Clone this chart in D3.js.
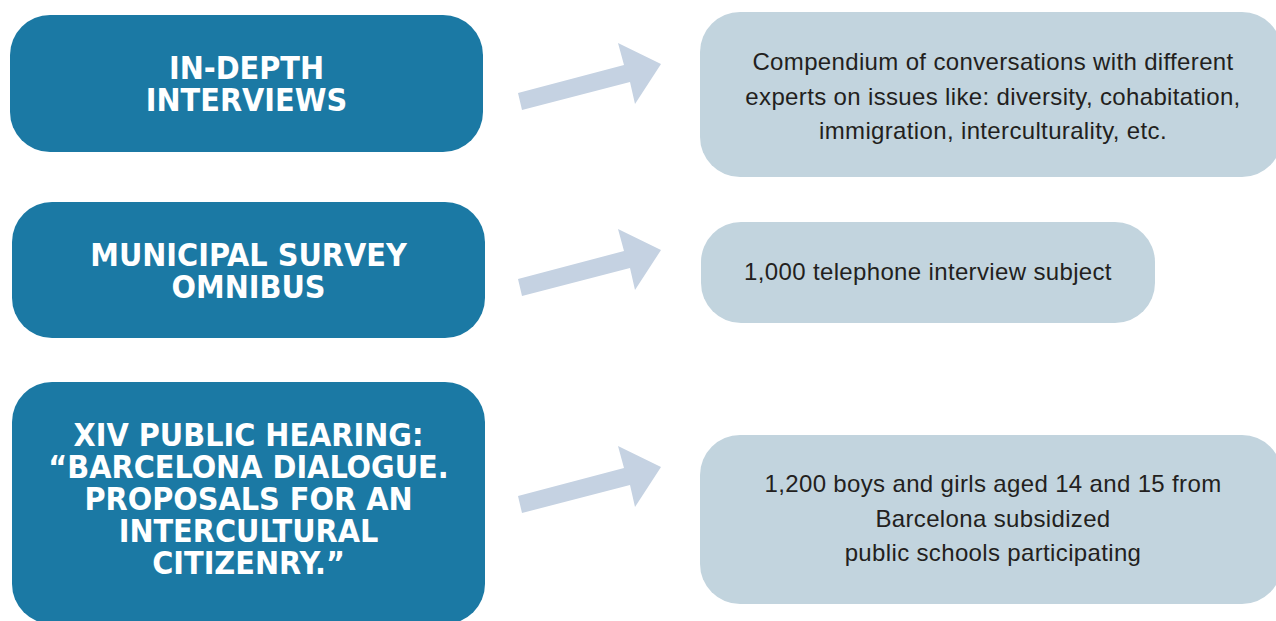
<!DOCTYPE html>
<html>
<head>
<meta charset="utf-8">
<script src="https://cdn.jsdelivr.net/npm/d3@7"></script>
<style>
  html, body { margin: 0; padding: 0; background: #ffffff; overflow: hidden; }
  svg { display: block; }
</style>
</head>
<body>
<svg id="chart" width="1276" height="621"></svg>
<script>
// ---- data ----
const methods = [
  ["IN-DEPTH", "INTERVIEWS"],
  ["MUNICIPAL SURVEY", "OMNIBUS"],
  ["XIV PUBLIC HEARING:", "\u201CBARCELONA DIALOGUE.", "PROPOSALS FOR AN", "INTERCULTURAL", "CITIZENRY.\u201D"]
];
const descriptions = [
  ["Compendium of conversations with different", "experts on issues like: diversity, cohabitation,", "immigration, interculturality, etc."],
  ["1,000 telephone interview subject"],
  ["1,200 boys and girls aged 14 and 15 from", "Barcelona subsidized", "public schools participating"]
];

// ---- layout (styles / positions kept separate from data) ----
const leftBoxes = [
  { x: 10, y: 15, w: 473, h: 137, base: 79 },
  { x: 12, y: 202, w: 473, h: 136, base: 266 },
  { x: 12, y: 382, w: 473, h: 242, base: 446 }
];
const rightBoxes = [
  { x: 700, y: 12, w: 582, h: 165, base: 70 },
  { x: 701, y: 222, w: 454, h: 101, base: 280 },
  { x: 700, y: 435, w: 582, h: 169, base: 492 }
];
const arrowOffsets = [0, 186, 403];
const arrowShape = [[518,93],[624,65],[618,43],[661,64],[635,104],[630,82],[522,110]];

const svg = d3.select("#chart");

// left boxes
const lg = svg.selectAll("g.left").data(methods).join("g").attr("class", "left");
lg.append("rect")
  .attr("x", (d, i) => leftBoxes[i].x)
  .attr("y", (d, i) => leftBoxes[i].y)
  .attr("width", (d, i) => leftBoxes[i].w)
  .attr("height", (d, i) => leftBoxes[i].h)
  .attr("rx", 40).attr("ry", 40)
  .attr("fill", "#1b79a4");
lg.each(function(lines, i) {
  const b = leftBoxes[i];
  d3.select(this).selectAll("text").data(lines).join("text")
    .attr("x", b.x + b.w / 2)
    .attr("y", (d, j) => b.base + j * 32)
    .attr("text-anchor", "middle")
    .attr("fill", "#ffffff")
    .attr("font-family", "'DejaVu Sans Condensed', 'DejaVu Sans', sans-serif")
    .attr("font-stretch", "condensed")
    .attr("font-weight", "bold")
    .attr("font-size", 32)
    .text(d => d);
});

// arrows
const line = d3.line();
svg.selectAll("path.arrow").data(arrowOffsets).join("path")
  .attr("class", "arrow")
  .attr("d", off => line(arrowShape.map(p => [p[0], p[1] + off])) + "Z")
  .attr("fill", "#c5d2e2");

// right boxes
const rg = svg.selectAll("g.right").data(descriptions).join("g").attr("class", "right");
rg.append("rect")
  .attr("x", (d, i) => rightBoxes[i].x)
  .attr("y", (d, i) => rightBoxes[i].y)
  .attr("width", (d, i) => rightBoxes[i].w)
  .attr("height", (d, i) => rightBoxes[i].h)
  .attr("rx", 40).attr("ry", 40)
  .attr("fill", "#c2d4de");
rg.each(function(lines, i) {
  const b = rightBoxes[i];
  d3.select(this).selectAll("text").data(lines).join("text")
    .attr("x", b.x + (i === 1 ? b.w / 2 : 293))
    .attr("y", (d, j) => b.base + j * 34.5)
    .attr("text-anchor", "middle")
    .attr("fill", "#231f20")
    .attr("font-family", "'Liberation Sans', Arial, Helvetica, sans-serif")
    .attr("font-size", 24)
    .attr("letter-spacing", 0.35)
    .text(d => d);
});
</script>
</body>
</html>
